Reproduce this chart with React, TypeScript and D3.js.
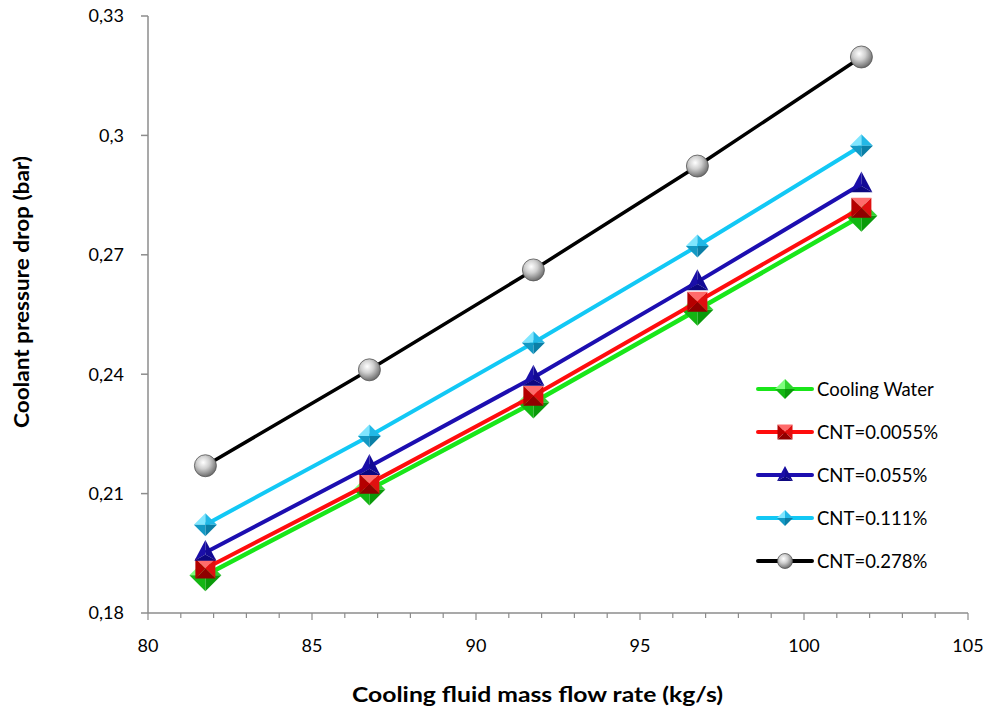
import React from "react";
import * as d3 from "d3";

const flowRates = [81.75, 86.75, 91.75, 96.75, 101.75];
const coolingWater = [0.1895, 0.211, 0.2329, 0.2562, 0.2798];
const cnt00055 = [0.1912, 0.2125, 0.2346, 0.2582, 0.2818];
const cnt0055 = [0.1952, 0.2168, 0.2392, 0.2632, 0.2878];
const cnt0111 = [0.2022, 0.2245, 0.2479, 0.2722, 0.2974];
const cnt0278 = [0.217, 0.2411, 0.2662, 0.2923, 0.3197];
const seriesNames = ["Cooling Water", "CNT=0.0055%", "CNT=0.055%", "CNT=0.111%", "CNT=0.278%"];
const xTicks = [80, 85, 90, 95, 100, 105];
const yTicks = [0.18, 0.21, 0.24, 0.27, 0.3, 0.33];
const yTickLabels = ["0,18", "0,21", "0,24", "0,27", "0,3", "0,33"];

const W = 991, H = 713;
const FONT = "Lato, 'Open Sans', sans-serif";

type MarkerKind = "diamondBig" | "square" | "triangle" | "diamond" | "sphere";
const series = [
  { name: seriesNames[0], values: coolingWater, color: "#19e619", width: 4.5, kind: "diamondBig" as MarkerKind, shades: ["#7dff7d", "#2fd42f", "#0a9a0a", "#13b613"] },
  { name: seriesNames[1], values: cnt00055, color: "#ff0d0d", width: 4, kind: "square" as MarkerKind, shades: ["#ff6b6b", "#e01010", "#8f0000", "#b50000"] },
  { name: seriesNames[2], values: cnt0055, color: "#1c0eb0", width: 4, kind: "triangle" as MarkerKind, shades: ["#3a30c8", "#1a0ea8", "#0d0780", "#130a95"] },
  { name: seriesNames[3], values: cnt0111, color: "#12c8f5", width: 4, kind: "diamond" as MarkerKind, shades: ["#7fe6ff", "#22b8e6", "#0b7fa6", "#1499c4"] },
  { name: seriesNames[4], values: cnt0278, color: "#000000", width: 3.5, kind: "sphere" as MarkerKind, shades: [] as string[] },
];

const tri = (a: number[], b: number[], c: number[]) => `M${a[0]},${a[1]}L${b[0]},${b[1]}L${c[0]},${c[1]}Z`;

function Marker({ kind, cx, cy, s, shades }: { kind: MarkerKind; cx: number; cy: number; s: number; shades: string[] }) {
  if (kind === "sphere") {
    return <circle cx={cx} cy={cy} r={s / 2} fill="url(#sphereGrad)" stroke="#555" strokeWidth={0.8} />;
  }
  if (kind === "diamond" || kind === "diamondBig") {
    const r = s / 2;
    const T = [cx, cy - r], R = [cx + r, cy], B = [cx, cy + r], L = [cx - r, cy], C = [cx, cy];
    return (
      <g>
        <path d={tri(L, T, C)} fill={shades[0]} />
        <path d={tri(T, R, C)} fill={shades[1]} />
        <path d={tri(R, B, C)} fill={shades[2]} />
        <path d={tri(B, L, C)} fill={shades[3]} />
      </g>
    );
  }
  if (kind === "square") {
    const r = s / 2;
    const TL = [cx - r, cy - r], TR = [cx + r, cy - r], BR = [cx + r, cy + r], BL = [cx - r, cy + r], C = [cx, cy];
    return (
      <g>
        <path d={tri(TL, TR, C)} fill={shades[0]} />
        <path d={tri(TR, BR, C)} fill={shades[1]} />
        <path d={tri(BR, BL, C)} fill={shades[2]} />
        <path d={tri(BL, TL, C)} fill={shades[3]} />
      </g>
    );
  }
  const h = s * 0.95;
  const T = [cx, cy - h * 0.6], R = [cx + s / 2, cy + h * 0.4], L = [cx - s / 2, cy + h * 0.4], C = [cx, cy + h * 0.1];
  return (
    <g>
      <path d={tri(L, T, C)} fill={shades[1]} />
      <path d={tri(T, R, C)} fill={shades[3]} />
      <path d={tri(R, L, C)} fill={shades[2]} />
    </g>
  );
}

const markerSize: Record<MarkerKind, number> = { diamondBig: 32, square: 20, triangle: 22, diamond: 23, sphere: 22 };
const legendSize: Record<MarkerKind, number> = { diamondBig: 20, square: 15, triangle: 16, diamond: 16, sphere: 15 };

export default function App() {
  const x = d3.scaleLinear().domain([80, 105]).range([148, 968]);
  const y = d3.scaleLinear().domain([0.18, 0.33]).range([613, 16]);
  const line = d3.line<number>().x((_, i) => x(flowRates[i])).y((v) => y(v));
  const minorX = d3.range(80, 106, 1);
  const axisColor = "#8c8c8c";

  return (
    <svg width={W} height={H} style={{ display: "block", position: "absolute", left: 0, top: 0 }}>
      <defs>
        <radialGradient id="sphereGrad" cx="0.4" cy="0.35" r="0.65">
          <stop offset="0" stopColor="#ffffff" />
          <stop offset="0.45" stopColor="#cfcfcf" />
          <stop offset="1" stopColor="#6e6e6e" />
        </radialGradient>
      </defs>
      <rect width={W} height={H} fill="#fff" />
      <line x1={x(80)} x2={x(80)} y1={y(0.33)} y2={y(0.18)} stroke={axisColor} strokeWidth={1.5} />
      <line x1={x(80)} x2={x(105)} y1={y(0.18)} y2={y(0.18)} stroke={axisColor} strokeWidth={1.5} />
      {yTicks.map((t, i) => (
        <g key={t}>
          <line x1={x(80) - 7} x2={x(80)} y1={y(t)} y2={y(t)} stroke={axisColor} strokeWidth={1.5} />
          <text x={124} y={y(t)} dy="0.36em" textAnchor="end" fontFamily={FONT} fontSize={18} fill="#000">
            {yTickLabels[i]}
          </text>
        </g>
      ))}
      {minorX.map((t) => (
        <line key={t} x1={x(t)} x2={x(t)} y1={y(0.18)} y2={y(0.18) + (t % 5 === 0 ? 7 : 5)} stroke={axisColor} strokeWidth={1.2} />
      ))}
      {xTicks.map((t) => (
        <text key={t} x={x(t)} y={652} textAnchor="middle" fontFamily={FONT} fontSize={18} fill="#000">
          {t}
        </text>
      ))}
      <text x={537.5} y={702} textAnchor="middle" fontFamily={FONT} fontSize={21} fontWeight="bold" textLength={371} lengthAdjust="spacingAndGlyphs">
        Cooling fluid mass flow rate (kg/s)
      </text>
      <text transform="translate(29,292) rotate(-90)" textAnchor="middle" fontFamily={FONT} fontSize={21} fontWeight="bold" textLength={272} lengthAdjust="spacingAndGlyphs">
        Coolant pressure drop (bar)
      </text>
      {series.map((s) => (
        <g key={s.name}>
          <path d={line(s.values) || ""} fill="none" stroke={s.color} strokeWidth={s.width} />
          {s.values.map((v, i) => (
            <Marker key={i} kind={s.kind} cx={x(flowRates[i])} cy={y(v)} s={markerSize[s.kind]} shades={s.shades} />
          ))}
        </g>
      ))}
      {series.map((s, i) => {
        const ly = 389 + i * 43;
        return (
          <g key={s.name}>
            <line x1={758} x2={812} y1={ly} y2={ly} stroke={s.color} strokeWidth={4} strokeLinecap="round" />
            <Marker kind={s.kind} cx={785} cy={ly} s={legendSize[s.kind]} shades={s.shades} />
            <text x={817} y={ly} dy="0.36em" fontFamily={FONT} fontSize={18.5} fill="#000">
              {s.name}
            </text>
          </g>
        );
      })}
    </svg>
  );
}
